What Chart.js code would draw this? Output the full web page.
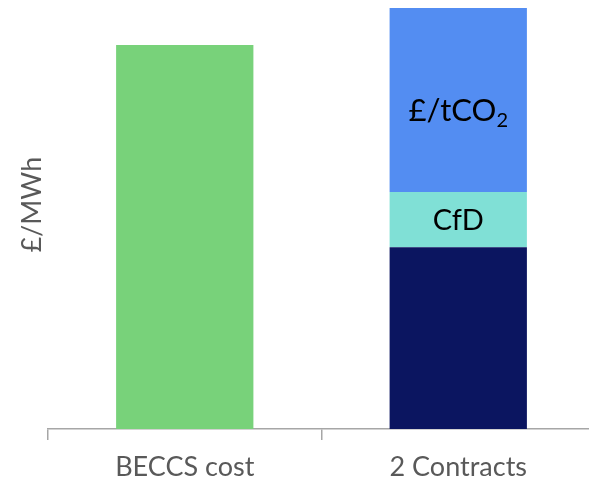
<!DOCTYPE html>
<html>
<head>
<meta charset="utf-8">
<script src="https://cdn.jsdelivr.net/npm/chart.js@4"></script>
<style>
  html, body { margin: 0; padding: 0; background: #ffffff; overflow: hidden; }
  #wrap { width: 595px; height: 482px; position: relative; }
</style>
</head>
<body>
<div id="wrap"><canvas id="c" width="595" height="482"></canvas></div>
<script>
// ---- data (arbitrary £/MWh units) ----
const categories = ['BECCS cost', '2 Contracts'];
const beccsCost = [91.2, null];
const baseValues = [null, 43.2];
const cfdValues = [null, 13.1];
const carbonValues = [null, 43.7];
const yAxisTitle = '\u00A0\u00A0\u00A0\u00A0£/MWh';

const FONT = 'Lato, "Open Sans", sans-serif';

const labelPlugin = {
  id: 'segLabels',
  afterDatasetsDraw(chart) {
    const ctx = chart.ctx;
    chart.data.datasets.forEach((ds, i) => {
      if (!ds.segLabel) return;
      const meta = chart.getDatasetMeta(i);
      meta.data.forEach((el, j) => {
        if (ds.data[j] == null) return;
        const cx = el.x;
        const cy = (el.y + el.base) / 2 + (ds.segOffset || 0);
        ctx.save();
        ctx.fillStyle = '#000000';
        ctx.textBaseline = 'alphabetic';
        const main = ds.segLabel.main, sub = ds.segLabel.sub || '';
        const fs = ds.segLabel.size;
        ctx.font = fs + 'px ' + FONT;
        const wMain = ctx.measureText(main).width;
        ctx.font = Math.round(fs * 0.65) + 'px ' + FONT;
        const wSub = sub ? ctx.measureText(sub).width : 0;
        const total = wMain + wSub;
        const baseY = cy + fs * 0.36;
        ctx.font = fs + 'px ' + FONT;
        ctx.textAlign = 'left';
        ctx.fillText(main, cx - total / 2, baseY);
        if (sub) {
          ctx.font = Math.round(fs * 0.65) + 'px ' + FONT;
          ctx.fillText(sub, cx - total / 2 + wMain, baseY + fs * 0.18);
        }
        ctx.restore();
      });
    });
  }
};

new Chart(document.getElementById('c'), {
  type: 'bar',
  data: {
    labels: categories,
    datasets: [
      { label: 'BECCS cost', data: beccsCost, backgroundColor: '#78D27A' },
      { label: 'Base', data: baseValues, backgroundColor: '#0B1560' },
      { label: 'CfD', data: cfdValues, backgroundColor: '#80E0D6',
        segLabel: { main: 'CfD', size: 29 } },
      { label: '£/tCO2', data: carbonValues, backgroundColor: '#538DF2',
        segLabel: { main: '£/tCO', sub: '2', size: 31 }, segOffset: 10 }
    ]
  },
  options: {
    responsive: false,
    animation: false,
    devicePixelRatio: 1,
    layout: { padding: { top: 8, left: 0, right: 0, bottom: 0 } },
    plugins: { legend: { display: false }, tooltip: { enabled: false } },
    datasets: { bar: { barPercentage: 0.502, categoryPercentage: 1.0, borderWidth: 0 } },
    scales: {
      x: {
        stacked: true,
        grid: { display: true, drawOnChartArea: false, drawTicks: true, tickLength: 11, color: '#A6A6A6', lineWidth: 1.5, offset: true },
        border: { display: true, color: '#A6A6A6', width: 1.5 },
        ticks: { color: '#595959', font: { family: FONT, size: 27 }, padding: 11, maxRotation: 0 },
        afterFit(scale) { scale.height = 53; }
      },
      y: {
        stacked: true,
        min: 0, max: 100,
        grid: { display: false },
        border: { display: false },
        ticks: { display: false },
        title: { display: true, text: yAxisTitle, color: '#595959', font: { family: FONT, size: 27 }, padding: { top: 16, bottom: 4 } },
        afterFit(scale) { scale.width = 48; }
      }
    }
  },
  plugins: [labelPlugin]
});
</script>
</body>
</html>
